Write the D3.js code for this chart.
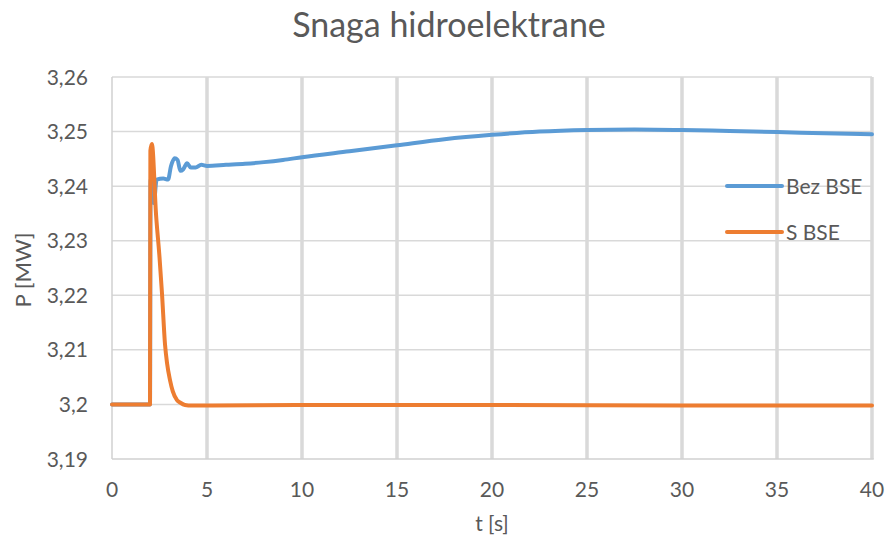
<!DOCTYPE html>
<html>
<head>
<meta charset="utf-8">
<script src="https://cdn.jsdelivr.net/npm/d3@7"></script>
<style>
  html, body { margin: 0; padding: 0; background: #fff; }
  svg { display: block; font-family: Lato, "Open Sans", sans-serif; }
</style>
</head>
<body>
<svg id="chart" width="888" height="540"></svg>
<script>
// ---- data ----
const title = "Snaga hidroelektrane";
const xLabel = "t [s]";
const yLabel = "P [MW]";
const seriesNames = ["Bez BSE", "S BSE"];

const xTicks = [0, 5, 10, 15, 20, 25, 30, 35, 40];
const yTicks = [3.19, 3.2, 3.21, 3.22, 3.23, 3.24, 3.25, 3.26];
const yTickLabels = ["3,19", "3,2", "3,21", "3,22", "3,23", "3,24", "3,25", "3,26"];

// Bez BSE (blue)
const tBez = [0, 2.0, 2.03, 2.1, 2.2, 2.35, 2.7, 2.95, 3.1, 3.3, 3.45, 3.6, 3.75, 3.95, 4.15, 4.4, 4.7, 5, 6, 7, 8, 9, 10, 12.5, 15, 17.5, 20, 22.5, 25, 27.5, 30, 32.5, 35, 37.5, 40];
const pBez = [3.2, 3.2, 3.2412, 3.2398, 3.2369, 3.2412, 3.2414, 3.2412, 3.2436, 3.2451, 3.2448, 3.2428, 3.2431, 3.2442, 3.2434, 3.2434, 3.2439, 3.2437, 3.2439, 3.2441, 3.2444, 3.2448, 3.2453, 3.2464, 3.2475, 3.2486, 3.2494, 3.2500, 3.2503, 3.2504, 3.2503, 3.2501, 3.2499, 3.2497, 3.2495];

// S BSE (orange)
const tS = [0, 2.0, 2.02, 2.1, 2.32, 2.5, 2.63, 2.79, 2.9, 3.05, 3.2, 3.42, 3.6, 3.84, 4.2, 5, 10, 20, 30, 40];
const pS = [3.2, 3.2, 3.2465, 3.2477, 3.2347, 3.2270, 3.2204, 3.2110, 3.2075, 3.2045, 3.2024, 3.2008, 3.2003, 3.1999, 3.1998, 3.1998, 3.1999, 3.1999, 3.1998, 3.1998];

const colors = ["#5B9BD5", "#ED7D31"];

// ---- layout ----
const svg = d3.select("#chart");
const pLeft = 112, pRight = 872, pTop = 77, pBottom = 459;
const x = d3.scaleLinear().domain([0, 40]).range([pLeft, pRight]);
const y = d3.scaleLinear().domain([3.19, 3.26]).range([pBottom, pTop]);
const textColor = "#595959";
const gridColor = "#d9d9d9";

// horizontal gridlines
svg.append("g").selectAll("line").data(yTicks.slice(1)).join("line")
  .attr("x1", pLeft).attr("x2", pRight)
  .attr("y1", d => y(d)).attr("y2", d => y(d))
  .attr("stroke", gridColor).attr("stroke-width", 1.5);

// vertical gridlines (thick)
svg.append("g").selectAll("line").data(xTicks.slice(1)).join("line")
  .attr("x1", d => x(d)).attr("x2", d => x(d))
  .attr("y1", pTop).attr("y2", pBottom)
  .attr("stroke", gridColor).attr("stroke-width", 3.5);

// axis lines
svg.append("line").attr("x1", pLeft).attr("x2", pLeft).attr("y1", pTop).attr("y2", pBottom)
  .attr("stroke", "#d0d0d0").attr("stroke-width", 1.5);
svg.append("line").attr("x1", pLeft).attr("x2", pRight + 1.75).attr("y1", pBottom).attr("y2", pBottom)
  .attr("stroke", "#d0d0d0").attr("stroke-width", 1.5);

// y tick labels
svg.append("g").selectAll("text").data(yTicks).join("text")
  .attr("x", 88).attr("y", d => y(d)).attr("dy", "0.36em")
  .attr("text-anchor", "end").attr("font-size", 21).attr("fill", textColor)
  .text((d, i) => yTickLabels[i]);

// x tick labels
svg.append("g").selectAll("text").data(xTicks).join("text")
  .attr("x", d => x(d)).attr("y", 497)
  .attr("text-anchor", "middle").attr("font-size", 21).attr("fill", textColor)
  .text(d => d);

// lines
const line = d3.line().x(d => x(d[0])).y(d => y(d[1])).curve(d3.curveMonotoneX);
const dataBez = tBez.map((t, i) => [t, pBez[i]]);
const dataS = tS.map((t, i) => [t, pS[i]]);
[dataBez, dataS].forEach((data, i) => {
  svg.append("path").datum(data)
    .attr("d", line)
    .attr("fill", "none")
    .attr("stroke", colors[i])
    .attr("stroke-width", 4)
    .attr("stroke-linejoin", "round")
    .attr("stroke-linecap", "round");
});

// title
svg.append("text").attr("x", 449).attr("y", 37)
  .attr("text-anchor", "middle").attr("font-size", 34).attr("fill", textColor)
  .text(title);

// axis titles
svg.append("text").attr("x", 492).attr("y", 531)
  .attr("text-anchor", "middle").attr("font-size", 21).attr("fill", textColor)
  .text(xLabel);
svg.append("text")
  .attr("transform", "translate(31,270) rotate(-90)")
  .attr("text-anchor", "middle").attr("font-size", 22).attr("fill", textColor)
  .text(yLabel);

// legend
const legendY = [186, 232];
seriesNames.forEach((name, i) => {
  svg.append("line").attr("x1", 727).attr("x2", 782)
    .attr("y1", legendY[i]).attr("y2", legendY[i])
    .attr("stroke", colors[i]).attr("stroke-width", 4).attr("stroke-linecap", "round");
  svg.append("text").attr("x", 786).attr("y", legendY[i]).attr("dy", "0.36em")
    .attr("font-size", 21).attr("fill", textColor).text(name);
});
</script>
</body>
</html>
